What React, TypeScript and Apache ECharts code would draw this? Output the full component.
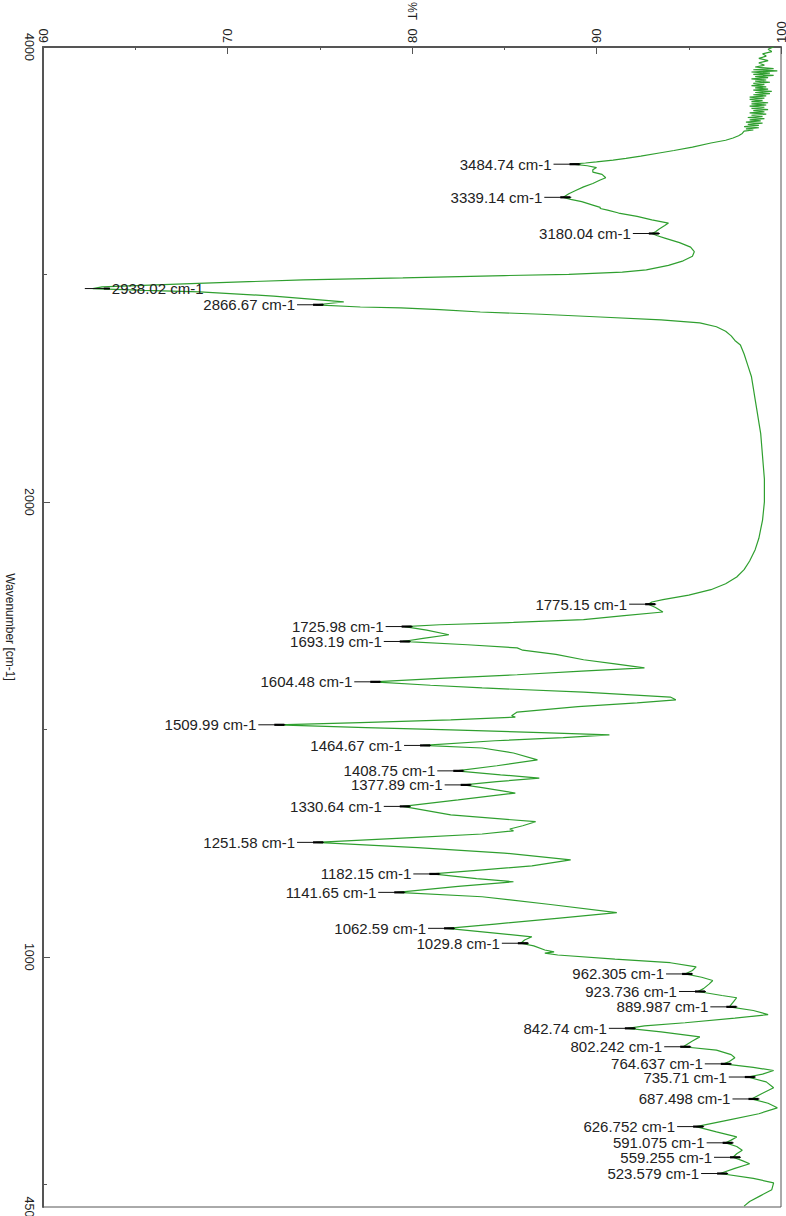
import React, { useEffect, useRef } from "react";
import * as echarts from "echarts";

// Spectrum: wavenumber (cm-1) and transmittance (%T)
const specWn = [
  4000, 3990, 3980, 3970, 3960, 3950, 3940, 3930, 3920, 3912, 3905, 3900, 3895, 3890, 3885, 3880, 3875, 3870, 3865, 3860,
  3855, 3850, 3845, 3840, 3835, 3830, 3825, 3820, 3815, 3810, 3805, 3800, 3795, 3790, 3785, 3780, 3775, 3770, 3765,
  3760, 3755, 3750, 3745, 3740, 3735, 3730, 3725, 3720, 3715, 3710, 3705, 3700, 3695, 3690, 3685, 3680, 3675, 3670,
  3665, 3660, 3655, 3650, 3645, 3640, 3635, 3630, 3620, 3610, 3600, 3590, 3578, 3560, 3545, 3534, 3520, 3510, 3503,
  3495, 3490, 3484.74, 3478, 3470, 3460, 3450, 3440, 3425, 3415, 3400, 3385, 3370, 3355, 3339.14, 3330, 3320, 3305,
  3295, 3290, 3283, 3270, 3255, 3240, 3226, 3215, 3200, 3188, 3180.04, 3170, 3160, 3140, 3120, 3100, 3080, 3060, 3040,
  3020, 3010, 3000, 2995, 2985, 2976, 2960, 2945, 2938.02, 2930, 2923, 2905, 2888, 2879, 2866.67, 2857, 2853, 2845,
  2835, 2825, 2813, 2800, 2787, 2770, 2750, 2730, 2710, 2690, 2650, 2600, 2550, 2500, 2450, 2400, 2350, 2300, 2250,
  2200, 2150, 2100, 2050, 2000, 1980, 1960, 1940, 1920, 1895, 1870, 1851, 1835, 1820, 1807, 1795, 1785, 1780, 1775.15,
  1768, 1758, 1750, 1741, 1735, 1730, 1725.98, 1718, 1708, 1700, 1693.19, 1686, 1679, 1674, 1665, 1653, 1644, 1635,
  1628, 1620, 1612, 1604.48, 1597, 1591, 1582, 1571, 1565, 1558, 1550, 1538, 1530, 1527, 1521, 1515, 1509.99, 1504,
  1499, 1493, 1488, 1482, 1475, 1464.67, 1459, 1448, 1433, 1420, 1408.75, 1400, 1393, 1385, 1377.89, 1372, 1360, 1345,
  1330.64, 1312, 1297, 1288, 1281, 1277, 1270, 1262, 1251.58, 1240, 1228, 1213, 1200, 1190, 1182.15, 1172, 1165, 1155,
  1141.65, 1132, 1115, 1097, 1085, 1072, 1062.59, 1052, 1044, 1037, 1029.8, 1024, 1015, 1011, 1008, 1004, 995, 987,
  978, 970, 962.305, 955, 948, 940, 930, 923.736, 915, 910, 900, 889.987, 882, 873, 865, 855, 848, 842.74, 835, 824,
  815, 802.242, 795, 785, 778, 770, 764.637, 757, 750, 742, 735.71, 725, 712, 700, 687.498, 678, 668, 655, 640,
  626.752, 615, 604, 597, 591.075, 583, 575, 567, 559.255, 552, 545, 535, 523.579, 513, 503, 488, 475, 462, 452,
];
const specT = [
  99.6, 99.3, 99.5, 99.0, 99.2, 98.8, 99.3, 98.8, 99.1, 98.6, 99.6, 98.5, 99.8, 98.4, 99.4, 98.5, 99.6, 98.6, 99.3, 98.4,
  99.2, 98.6, 99.4, 98.5, 99.1, 98.4, 99.2, 98.6, 99.3, 98.5, 99.5, 98.6, 99.4, 98.5, 99.2, 98.3, 99.1, 98.3, 99.0,
  98.4, 99.3, 98.4, 99.2, 98.3, 99.1, 98.4, 99.3, 98.5, 99.1, 98.3, 99.2, 98.4, 99.0, 98.2, 99.1, 98.3, 98.9, 98.1,
  99.0, 98.2, 98.8, 98.0, 98.8, 98.1, 98.5, 98.0, 97.9, 97.7, 97.4, 97.0, 96.2, 95.2, 94.2, 93.4, 92.4, 91.6, 90.9,
  90.0, 89.4, 88.7, 89.5, 90.0, 89.8, 89.8, 90.3, 90.5, 90.2, 89.8, 89.3, 88.9, 88.5, 88.2, 88.6, 89.2, 89.8,
  90.2, 90.2, 90.6, 91.2, 92.2, 93.0, 93.9, 93.7, 93.4, 93.2, 93.0, 93.3, 93.7, 94.5, 95.1, 95.3, 95.2, 94.7, 93.9,
  92.7, 91.4, 88.5, 85.0, 79.5, 74.1, 68.0, 63.2, 62.7, 65.5, 68.5, 72.5, 75.0, 76.3, 74.8, 77.2, 79.4, 81.5,
  83.7, 87.0, 90.2, 93.5, 95.6, 96.5, 97.0, 97.3, 97.5, 97.8, 98.0, 98.2, 98.4, 98.5, 98.6, 98.7, 98.8, 98.9, 98.95,
  99.0, 99.05, 99.1, 99.1, 99.1, 99.05, 99.0, 98.9, 98.8, 98.6, 98.3, 98.0, 97.6, 97.0, 96.2, 95.0, 93.6, 93.0, 92.8,
  93.2, 93.6, 91.5, 89.3, 85.5, 81.5, 79.6, 80.8, 82.0, 80.6, 79.5, 83.0, 85.7, 86.0, 87.8, 89.3, 91.0, 92.6,
  89.2, 85.7, 81.5, 77.9, 81.0, 83.8, 89.3, 94.0, 94.3, 92.2, 89.0, 85.7, 85.4, 85.6, 82.1, 77.2, 72.7, 77.5,
  82.1, 87.0, 90.7, 88.2, 84.5, 80.6, 83.8, 85.5, 86.8, 84.6, 82.4, 84.8, 86.9, 84.6, 82.8, 83.8, 85.6, 82.5,
  79.5, 82.1, 86.7, 86.0, 85.3, 85.5, 83.8, 80.0, 74.8, 80.3, 85.0, 88.6, 86.5, 83.5, 81.1, 83.5, 85.5, 82.5,
  79.2, 83.8, 87.5, 91.1, 88.0, 84.5, 81.9, 84.5, 86.5, 86.1, 85.9, 86.6, 87.2, 87.7, 87.2, 87.9, 91.0, 94.0,
  95.4, 95.2, 94.8, 95.7, 96.3, 96.1, 95.8, 95.5, 96.8, 97.6, 97.4, 97.2, 98.5, 99.3, 97.5, 94.8, 92.6, 91.7, 93.5, 95.6,
  95.2, 94.7, 96.5, 97.3, 97.5, 97.2, 96.9, 98.5, 99.6, 99.0, 98.2, 99.2, 99.6, 99.0, 98.4, 99.3, 99.8, 98.8, 97.0,
  95.4, 96.5, 97.6, 97.3, 97.0, 97.6, 97.9, 97.6, 97.4, 97.9, 98.3, 97.5, 96.7, 98.5, 99.6, 99.5, 98.9, 98.3, 98.0,
];

// Labelled peaks (cm-1)
const peakWn = [
  3484.74, 3339.14, 3180.04, 2938.02, 2866.67, 1775.15, 1725.98, 1693.19, 1604.48, 1509.99, 1464.67, 1408.75,
  1377.89, 1330.64, 1251.58, 1182.15, 1141.65, 1062.59, 1029.8, 962.305, 923.736, 889.987, 842.74, 802.242,
  764.637, 735.71, 687.498, 626.752, 591.075, 559.255, 523.579,
];

// Axes
const tMin = 60;
const tMax = 100;
const tInterval = 10;
const wnLabelValues = [4000, 2000, 1000, 450];
const wnMajorTicks = [2000, 1000];
const wnMinorTicks = [3000, 1500, 500];
const wnMin = 450;
const wnMax = 4000;

// Instrument scale: 4000-2000 compressed by factor 2
const wnToAxis = (w: number) => (w > 2000 ? 2000 + (w - 2000) / 2 : w);
const axisToWn = (v: number) => (v > 2000 ? 2000 + (v - 2000) * 2 : v);

const FONT = "'Liberation Sans', Arial, sans-serif";

export default function App() {
  const ref = useRef<HTMLDivElement>(null);
  useEffect(() => {
    if (!ref.current) return;
    const chart = echarts.init(ref.current, undefined, { renderer: "svg" });
    const lineData = specWn.map((w, i) => [specT[i], wnToAxis(w)]);
    const peakData = peakWn.map((w) => {
      const idx = specWn.indexOf(w);
      return [specT[idx], wnToAxis(w), w];
    });
    const gridLeft = 43;
    const axisColor = "#555";
    chart.setOption({
      animation: false,
      backgroundColor: "#fff",
      grid: {
        left: gridLeft,
        top: 47,
        right: 5,
        bottom: 9,
        show: true,
        borderColor: axisColor,
        borderWidth: 1,
        containLabel: false,
        outerBoundsMode: "none",
      },
      xAxis: {
        type: "value",
        position: "top",
        min: tMin,
        max: tMax,
        interval: tInterval,
        name: "%T",
        nameLocation: "middle",
        nameGap: 27,
        nameRotate: -90,
        nameMoveOverlap: false,
        nameTextStyle: { fontFamily: FONT, fontSize: 12, color: "#222" },
        axisLine: { show: true, lineStyle: { color: axisColor, width: 2 } },
        axisTick: { show: true, inside: true, length: 7, lineStyle: { color: axisColor } },
        minorTick: { show: true, splitNumber: 2, length: 3, lineStyle: { color: axisColor } },
        axisLabel: {
          rotate: -90,
          margin: 4,
          fontFamily: FONT,
          fontSize: 13,
          lineHeight: 11,
          color: "#222",
        },
        splitLine: { show: false },
      },
      yAxis: [
        {
          type: "value",
          position: "left",
          min: wnToAxis(wnMin),
          max: wnToAxis(wnMax),
          name: "Wavenumber [cm-1]",
          nameLocation: "middle",
          nameGap: 27,
          nameRotate: -90,
          nameMoveOverlap: false,
          nameTextStyle: { fontFamily: FONT, fontSize: 12, color: "#222" },
          axisLine: { show: true, lineStyle: { color: axisColor, width: 2 } },
          axisTick: {
            show: true,
            inside: true,
            length: 7,
            customValues: wnMajorTicks.map(wnToAxis),
            lineStyle: { color: axisColor },
          },
          axisLabel: {
            rotate: -90,
            margin: 8,
            fontFamily: FONT,
            fontSize: 12.5,
            color: "#222",
            customValues: wnLabelValues.map(wnToAxis),
            formatter: (v: number) => String(Math.round(axisToWn(v))),
          },
          splitLine: { show: false },
        },
        {
          type: "value",
          position: "left",
          min: wnToAxis(wnMin),
          max: wnToAxis(wnMax),
          axisLine: { show: false },
          axisTick: {
            show: true,
            inside: true,
            length: 4,
            customValues: wnMinorTicks.map(wnToAxis),
            lineStyle: { color: axisColor },
          },
          axisLabel: { show: false },
          splitLine: { show: false },
        },
      ],
      series: [
        {
          type: "line",
          data: lineData,
          showSymbol: false,
          symbol: "none",
          lineStyle: { color: "#2f9f2f", width: 1.2 },
          silent: true,
          z: 2,
        },
        {
          type: "custom",
          coordinateSystem: "cartesian2d",
          data: peakData,
          clip: false,
          silent: true,
          z: 3,
          renderItem: (params: any, api: any) => {
            const p = api.coord([api.value(0), api.value(1)]);
            const px = p[0];
            const py = p[1];
            const label = String(api.value(2)) + " cm-1";
            const estWidth = 92;
            const right = px - 21 - estWidth < gridLeft;
            if (right) {
              return {
                type: "group",
                children: [
                  { type: "line", shape: { x1: px - 8, y1: py, x2: px + 17, y2: py }, style: { stroke: "#111", lineWidth: 1 } },
                  { type: "line", shape: { x1: px + 11, y1: py, x2: px + 17, y2: py }, style: { stroke: "#000", lineWidth: 2 } },
                  {
                    type: "text",
                    x: px + 19,
                    y: py,
                    style: { text: label, align: "left", verticalAlign: "middle", fontSize: 15, fontFamily: FONT, fill: "#222" },
                  },
                ],
              };
            }
            return {
              type: "group",
              children: [
                { type: "line", shape: { x1: px - 19, y1: py, x2: px + 8, y2: py }, style: { stroke: "#111", lineWidth: 1 } },
                { type: "line", shape: { x1: px - 3, y1: py, x2: px + 7, y2: py }, style: { stroke: "#000", lineWidth: 2.2 } },
                {
                  type: "text",
                  x: px - 21,
                  y: py,
                  style: { text: label, align: "right", verticalAlign: "middle", fontSize: 15, fontFamily: FONT, fill: "#222" },
                },
              ],
            };
          },
        },
      ],
    });
    return () => chart.dispose();
  }, []);
  return (
    <div
      ref={ref}
      style={{ position: "absolute", left: 0, top: 0, width: 786, height: 1216, background: "#fff" }}
    />
  );
}
